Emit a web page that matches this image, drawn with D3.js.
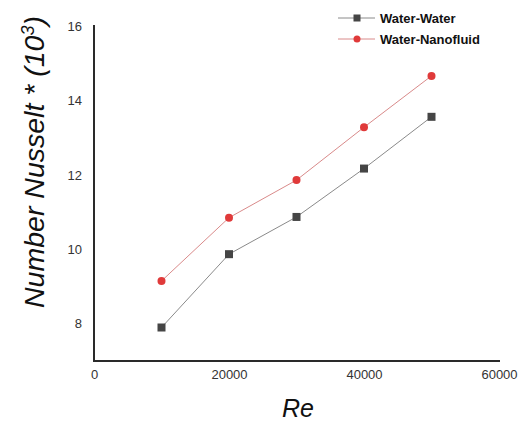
<!DOCTYPE html>
<html><head><meta charset="utf-8">
<script src="https://cdn.jsdelivr.net/npm/d3@7"></script>
<style>body{margin:0;background:#fff}svg{display:block}</style>
</head><body>
<svg id="c" width="526" height="423"></svg>
<script>
const reValues = [10000, 20000, 30000, 40000, 50000];
const waterWater = [7.9, 9.87, 10.87, 12.17, 13.56];
const waterNano = [9.15, 10.85, 11.86, 13.28, 14.66];
const xTicks = [0, 20000, 40000, 60000];
const yTicks = [8, 10, 12, 14, 16];
const seriesNames = ["Water-Water", "Water-Nanofluid"];

const svg = d3.select("#c");
const x = d3.scaleLinear().domain([0, 60000]).range([94, 499]);
const y = d3.scaleLinear().domain([7, 16]).range([361, 26]);

const font = "Liberation Sans, Arial, sans-serif";
const xAxis = d3.axisBottom(x).tickValues(xTicks).tickSize(0).tickPadding(9).tickFormat(d3.format("d"));
const gx = svg.append("g").attr("transform", "translate(0,361)").call(xAxis);
gx.select(".domain").attr("stroke", "#2a2a2a").attr("stroke-width", 2).attr("d", `M${x(0)-1},0H${x(60000)+1}`);
gx.selectAll("text").attr("font-family", font).attr("font-size", 13).attr("fill", "#333");

const yAxis = d3.axisLeft(y).tickValues(yTicks).tickSize(0).tickPadding(12);
const gy = svg.append("g").attr("transform", "translate(94,0)").call(yAxis);
gy.select(".domain").attr("stroke", "#2a2a2a").attr("stroke-width", 2).attr("d", `M0,${y(7)}V${y(16)-1}`);
gy.selectAll("text").attr("font-family", font).attr("font-size", 13).attr("fill", "#333");

const line = d3.line().x((d,i)=>x(reValues[i])).y(d=>y(d));
svg.append("path").datum(waterWater).attr("d", line).attr("fill","none").attr("stroke","#8a8a8a").attr("stroke-width",1);
svg.append("path").datum(waterNano).attr("d", line).attr("fill","none").attr("stroke","#d98a8a").attr("stroke-width",1);

svg.append("g").selectAll("rect").data(waterWater).join("rect")
  .attr("x",(d,i)=>x(reValues[i])-4).attr("y",d=>y(d)-4).attr("width",8).attr("height",8).attr("fill","#454545");
svg.append("g").selectAll("circle").data(waterNano).join("circle")
  .attr("cx",(d,i)=>x(reValues[i])).attr("cy",d=>y(d)).attr("r",4).attr("fill","#e03a3a");

const lg = svg.append("g");
[0,1].forEach(i=>{
  const ly = 18 + i*21;
  lg.append("line").attr("x1",338).attr("x2",375).attr("y1",ly).attr("y2",ly)
    .attr("stroke", i===0 ? "#8a8a8a" : "#d98a8a").attr("stroke-width",1);
  if(i===0) lg.append("rect").attr("x",353.5).attr("y",ly-3.5).attr("width",7).attr("height",7).attr("fill","#454545");
  else lg.append("circle").attr("cx",357).attr("cy",ly).attr("r",3.5).attr("fill","#e03a3a");
  lg.append("text").attr("x",380).attr("y",ly+4.5).text(seriesNames[i])
    .attr("font-family",font).attr("font-size",13).attr("font-weight","bold").attr("fill","#111");
});

svg.append("text").attr("x",298).attr("y",417).attr("text-anchor","middle")
  .attr("font-family",font).attr("font-style","italic").attr("font-size",25).attr("fill","#111").text("Re");
const yt = svg.append("text").attr("transform","translate(44,162) rotate(-90)").attr("text-anchor","middle")
  .attr("font-family",font).attr("font-style","italic").attr("font-size",28.5).attr("fill","#111");
yt.append("tspan").text("Number Nusselt * (10");
yt.append("tspan").attr("dy",-10).attr("font-size",18).text("3");
yt.append("tspan").attr("dy",10).text(")");
</script>
</body></html>
